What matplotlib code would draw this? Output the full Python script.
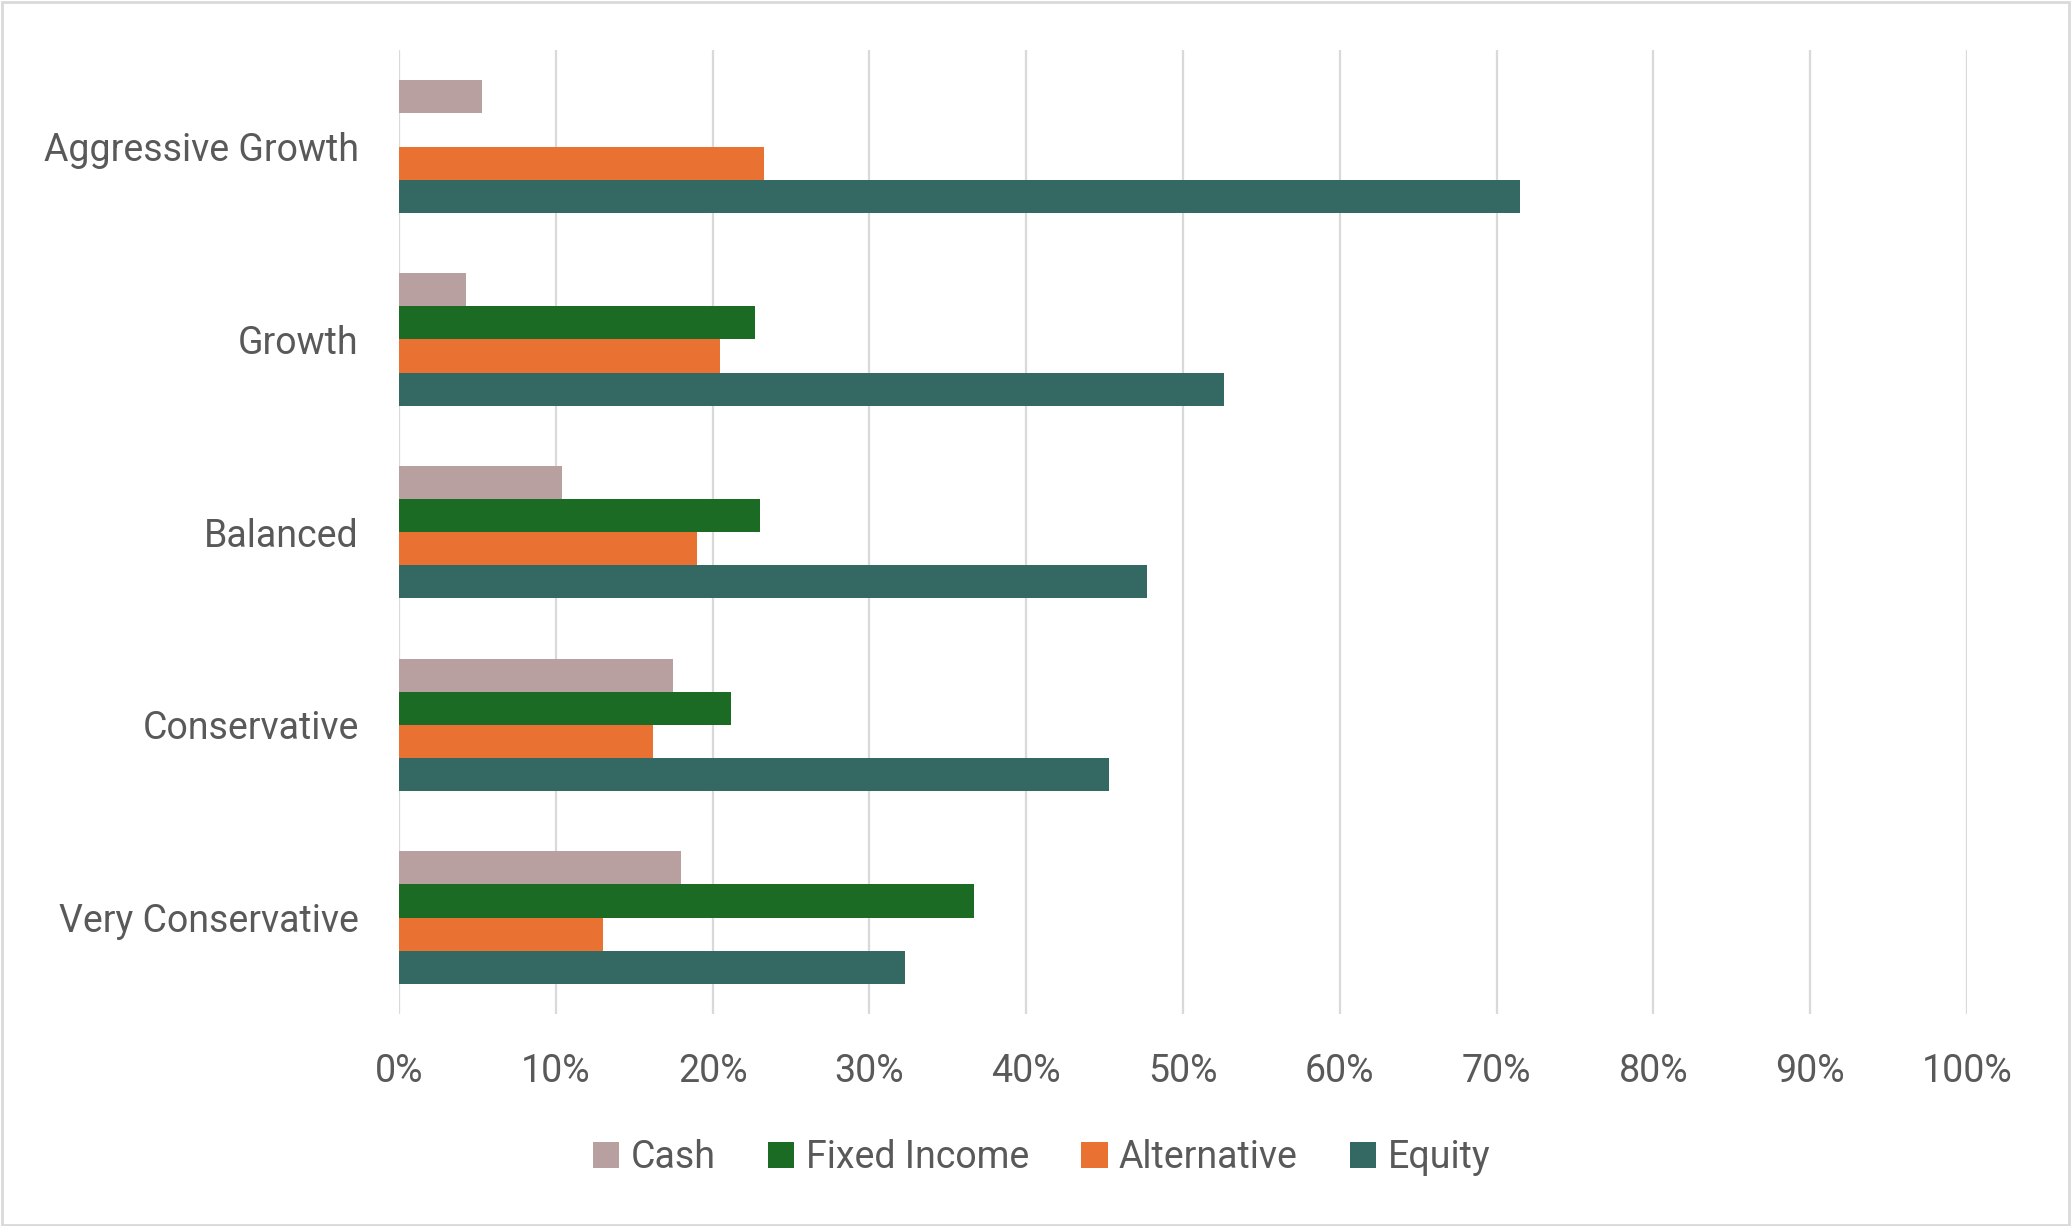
import numpy as np
import matplotlib.pyplot as plt
from matplotlib.patches import Rectangle, Patch

# Data (percent)
portfolios = ['Very Conservative', 'Conservative', 'Balanced', 'Growth', 'Aggressive Growth']
cash = [18.0, 17.5, 10.4, 4.3, 5.3]
fixed_income = [36.7, 21.2, 23.0, 22.7, 0.0]
alternative = [13.0, 16.2, 19.0, 20.5, 23.3]
equity = [32.3, 45.3, 47.7, 52.6, 71.5]

series = ['Cash', 'Fixed Income', 'Alternative', 'Equity']
colors = ['#B9A0A0', '#1B6B24', '#E97132', '#336863']
values = [cash, fixed_income, alternative, equity]

plt.rcParams['font.family'] = ['Roboto', 'DejaVu Sans']
txt = '#595959'

fig = plt.figure(figsize=(20.71, 12.26), dpi=100)
ax = fig.add_axes([0.1927, 0.173, 0.757, 0.786])

y = np.arange(len(portfolios))
h = 0.172
offsets = [1.5 * h, 0.5 * h, -0.5 * h, -1.5 * h]
for vals, off, c, name in zip(values, offsets, colors, series):
    ax.barh(y + off, vals, height=h, color=c, label=name, zorder=3)

ax.set_xlim(0, 100)
ax.set_ylim(-0.5, 4.5)
ax.set_xticks(np.arange(0, 101, 10))
ax.set_xticklabels([f'{v}%' for v in range(0, 101, 10)])
ax.set_yticks(y)
ax.set_yticklabels(portfolios)
ax.grid(axis='x', color='#D9D9D9', linewidth=1.6, zorder=0)
for s in ax.spines.values():
    s.set_visible(False)
ax.tick_params(axis='both', length=0, labelsize=27, labelcolor=txt)
ax.tick_params(axis='x', pad=28)
ax.tick_params(axis='y', pad=29)

handles = [Patch(facecolor=c, label=n) for c, n in zip(colors, series)]
leg = fig.legend(handles=handles, loc='center', bbox_to_anchor=(0.503, 0.056), ncol=4,
                 frameon=False, fontsize=27, handlelength=0.7, handleheight=0.7,
                 handletextpad=0.3, columnspacing=1.4)
for t in leg.get_texts():
    t.set_color(txt)

fig.patches.append(Rectangle((0.001, 0.001), 0.998, 0.997, transform=fig.transFigure,
                             fill=False, edgecolor='#D9D9D9', linewidth=2))

fig.savefig('out.png', dpi=100)
